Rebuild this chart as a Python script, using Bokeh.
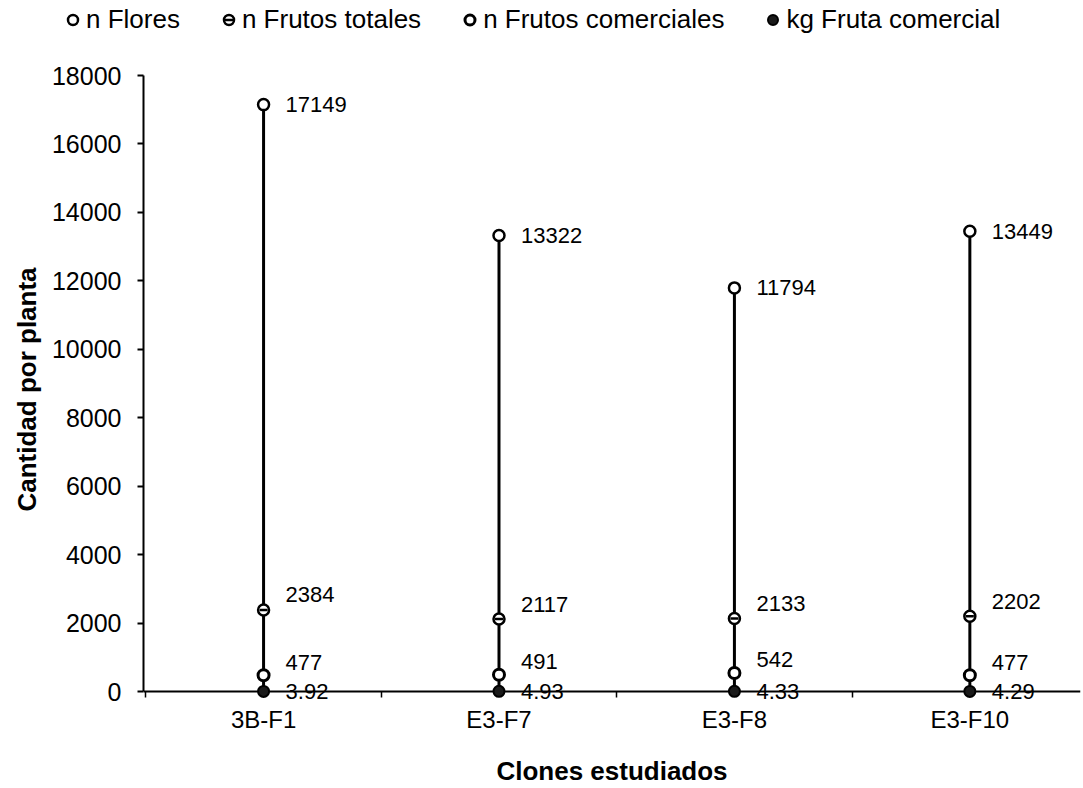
from bokeh.plotting import figure
from bokeh.layouts import column
from bokeh.models import Range1d, FixedTicker, Legend, LegendItem, Span
from bokeh.core.properties import value
from bokeh.embed import file_html
from bokeh.resources import INLINE

# Datos por clon
clones = ["3B-F1", "E3-F7", "E3-F8", "E3-F10"]
n_flores = [17149, 13322, 11794, 13449]
n_frutos_totales = [2384, 2117, 2133, 2202]
n_frutos_comerciales = [477, 491, 542, 477]
kg_fruta_comercial = [3.92, 4.93, 4.33, 4.29]
y_ticks = [0, 2000, 4000, 6000, 8000, 10000, 12000, 14000, 16000, 18000]
series_names = ["n Flores", "n Frutos totales", "n Frutos comerciales", "kg Fruta comercial"]

FONT = "Liberation Sans"
W = 1083
LEG_H = 60

# marker styles per series
flores_style = dict(marker="circle", size=11, fill_color="white", line_color="black", line_width=2.5)
tot_style = dict(marker="circle", size=11, fill_color="white", line_color="black", line_width=2.5)
tot_bar_style = dict(marker="dash", size=8, line_color="black", line_width=2.5)
com_style = dict(marker="circle", size=11, fill_color="white", line_color="black", line_width=3)
kg_style = dict(marker="circle", size=11, fill_color="#1a1a1a", line_color="black", line_width=2)

# one slot per clone: centre at i + 0.5, slot edges at integers
xs = [i + 0.5 for i in range(len(clones))]
edges = list(range(len(clones) + 1))

p = figure(width=W, height=788 - LEG_H, output_backend="svg", toolbar_location=None,
           x_range=Range1d(-0.01, 3.97), y_range=Range1d(-350, 18000),
           min_border_left=143, min_border_right=3,
           min_border_top=15, min_border_bottom=84)
p.frame_align = False
p.outline_line_color = None
p.xgrid.visible = False
p.ygrid.visible = False
p.background_fill_color = "white"
p.border_fill_color = "white"

# high-low stems
p.segment(x0=xs, y0=kg_fruta_comercial, x1=xs, y1=n_flores,
          line_color="black", line_width=3)

p.scatter(xs, n_flores, **flores_style)
p.scatter(xs, n_frutos_totales, **tot_style)
p.scatter(xs, n_frutos_totales, **tot_bar_style)
p.scatter(xs, n_frutos_comerciales, **com_style)

# zero line
p.add_layout(Span(location=0, dimension="width", line_color="black", line_width=2))

p.scatter(xs, kg_fruta_comercial, level="overlay", **kg_style)

# value labels
lab = dict(x_offset=22, text_baseline="middle", text_align="left",
           text_font=value(FONT), text_font_size="22px", text_color="black")
p.text(x=xs, y=n_flores, text=[str(v) for v in n_flores], y_offset=0, **lab)
p.text(x=xs, y=n_frutos_totales, text=[str(v) for v in n_frutos_totales], y_offset=-15, **lab)
p.text(x=xs, y=n_frutos_comerciales, text=[str(v) for v in n_frutos_comerciales], y_offset=-13, **lab)
p.text(x=xs, y=kg_fruta_comercial, text=[f"{v:.2f}" for v in kg_fruta_comercial], y_offset=0, **lab)

# y axis
ya = p.yaxis[0]
ya.ticker = FixedTicker(ticks=y_ticks, minor_ticks=[])
ya.bounds = (0, 18000)
ya.axis_line_color = "black"
ya.axis_line_width = 2
ya.major_tick_line_color = "black"
ya.major_tick_line_width = 2
ya.major_tick_in = 0
ya.major_tick_out = 6
ya.major_label_standoff = 16
ya.major_label_text_font = FONT
ya.major_label_text_font_size = "25px"
ya.major_label_text_color = "black"
ya.axis_label = "Cantidad por planta"
ya.axis_label_text_font = FONT
ya.axis_label_text_font_style = "bold"
ya.axis_label_text_font_size = "26px"
ya.axis_label_text_color = "black"
ya.axis_label_standoff = 7

# x axis: names under each slot, small ticks at slot edges
xa = p.xaxis[0]
xa.ticker = FixedTicker(ticks=xs, minor_ticks=edges)
xa.major_label_overrides = {x: c for x, c in zip(xs, clones)}
xa.axis_line_color = None
xa.major_tick_line_color = None
xa.major_tick_in = 0
xa.major_tick_out = 0
xa.minor_tick_line_color = "black"
xa.minor_tick_line_width = 1.5
xa.minor_tick_in = 12
xa.minor_tick_out = -6
xa.major_label_standoff = 2
xa.major_label_text_font = FONT
xa.major_label_text_font_size = "24px"
xa.major_label_text_color = "black"
xa.axis_label = "Clones estudiados"
xa.axis_label_text_font = FONT
xa.axis_label_text_font_style = "bold"
xa.axis_label_text_font_size = "26px"
xa.axis_label_text_color = "black"
xa.axis_label_standoff = 20

# legend strip across the top; its key glyphs carry the series data,
# which lies outside this strip's ranges, so only the keys are drawn
leg = figure(width=W, height=LEG_H, output_backend="svg", toolbar_location=None,
             x_range=Range1d(0, 1), y_range=Range1d(-2, -1),
             x_axis_location=None, y_axis_location=None,
             min_border=0)
leg.frame_align = False
leg.outline_line_color = None
leg.grid.visible = False
leg.background_fill_color = "white"
leg.border_fill_color = "white"

k_flores = leg.scatter(xs, n_flores, **flores_style)
k_tot = leg.scatter(xs, n_frutos_totales, **tot_style)
k_tot_bar = leg.scatter(xs, n_frutos_totales, **tot_bar_style)
k_com = leg.scatter(xs, n_frutos_comerciales, **com_style)
k_kg = leg.scatter(xs, kg_fruta_comercial, **kg_style)

legend = Legend(items=[
    LegendItem(label=series_names[0], renderers=[k_flores]),
    LegendItem(label=series_names[1], renderers=[k_tot, k_tot_bar]),
    LegendItem(label=series_names[2], renderers=[k_com]),
    LegendItem(label=series_names[3], renderers=[k_kg]),
], orientation="horizontal", location=(60, 25), spacing=36, padding=0, margin=0,
    glyph_width=25, glyph_height=25, label_standoff=1,
    label_text_font=FONT, label_text_font_size="26px", label_text_color="black",
    border_line_color=None, background_fill_alpha=0)
leg.add_layout(legend)

layout = column(leg, p, spacing=0)

open("out.html", "w").write(file_html(layout, INLINE))
